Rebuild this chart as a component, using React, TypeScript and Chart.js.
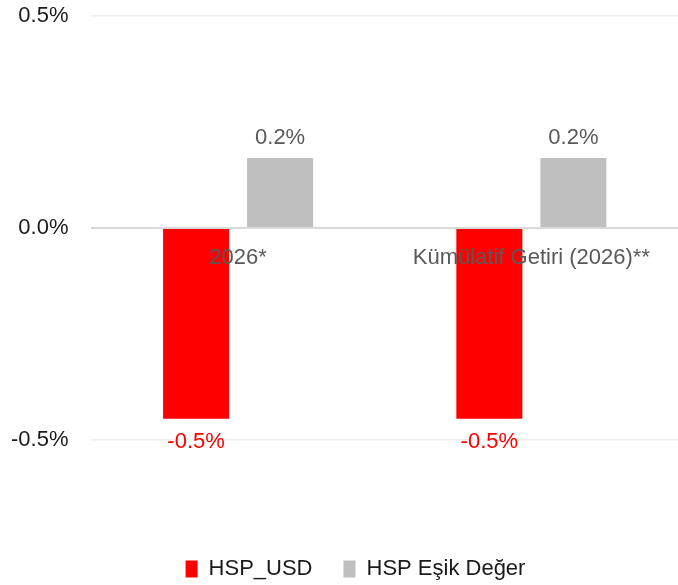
import React, { useEffect, useRef } from "react";
import { Chart, registerables } from "chart.js";

Chart.register(...registerables);

const categories = ["2026*", "Kümülatif Getiri (2026)**"];
const seriesNames = ["HSP_USD", "HSP Eşik Değer"];
const hspUsd = [-0.45, -0.45];
const hspEsik = [0.165, 0.165];
const yMin = -0.5;
const yMax = 0.5;
const yStep = 0.5;
const barColors = ["#FF0000", "#BFBFBF"];
const labelColors = ["#FF0000", "#595959"];

const FONT = '"Liberation Sans", Arial, sans-serif';

function fmtPct(v: number): string {
  const r = Math.round(Math.abs(v) * 10) / 10;
  return (v < 0 && r !== 0 ? "-" : "") + r.toFixed(1) + "%";
}

const labelsPlugin = {
  id: "valueAndCategoryLabels",
  afterDatasetsDraw(chart: any) {
    const ctx = chart.ctx;
    ctx.save();
    ctx.textAlign = "center";
    ctx.textBaseline = "middle";
    ctx.font = `22px ${FONT}`;
    chart.data.datasets.forEach((ds: any, di: number) => {
      const meta = chart.getDatasetMeta(di);
      meta.data.forEach((bar: any, i: number) => {
        const v = ds.data[i] as number;
        const y = v >= 0 ? bar.y - 20 : bar.y + 23;
        ctx.fillStyle = labelColors[di];
        ctx.fillText(fmtPct(v), bar.x, y);
      });
    });
    const xs = chart.scales.x;
    const ys = chart.scales.y;
    const y0 = ys.getPixelForValue(0);
    ctx.font = `22px ${FONT}`;
    ctx.fillStyle = "#595959";
    categories.forEach((c, i) => {
      ctx.fillText(c, xs.getPixelForValue(i), y0 + 30);
    });
    ctx.restore();
  },
};

const legendShiftPlugin = {
  id: "legendShift",
  afterLayout(chart: any) {
    if (chart.legend) {
      chart.legend.left += 11;
      chart.legend.right += 11;
    }
  },
};

export default function App() {
  const ref = useRef<HTMLCanvasElement | null>(null);
  useEffect(() => {
    if (!ref.current) return;
    Chart.defaults.font.family = FONT;
    const chart = new Chart(ref.current, {
      type: "bar",
      data: {
        labels: categories,
        datasets: [
          {
            label: seriesNames[0],
            data: hspUsd,
            backgroundColor: barColors[0],
            categoryPercentage: 0.573,
            barPercentage: 0.786,
          },
          {
            label: seriesNames[1],
            data: hspEsik,
            backgroundColor: barColors[1],
            categoryPercentage: 0.573,
            barPercentage: 0.786,
          },
        ],
      },
      options: {
        animation: false,
        responsive: true,
        maintainAspectRatio: false,
        layout: { padding: { top: 16, left: 11, right: 0, bottom: 0 } },
        plugins: {
          tooltip: { enabled: false },
          legend: {
            position: "bottom",
            labels: {
              font: { size: 22, family: FONT },
              color: "#1a1a1a",
              boxWidth: 12,
              boxHeight: 17,
              padding: 31,
            },
          },
        },
        scales: {
          x: {
            type: "category",
            offset: true,
            ticks: { display: false },
            grid: { display: false },
            border: { display: false },
            afterFit(scale: any) {
              scale.height = 87;
            },
          },
          y: {
            min: yMin,
            max: yMax,
            ticks: {
              stepSize: yStep,
              font: { size: 22, family: FONT },
              color: "#1a1a1a",
              padding: 0,
              callback: (v: any) => fmtPct(Number(v)),
            },
            grid: {
              drawTicks: true,
              tickLength: 23,
              tickColor: "rgba(0,0,0,0)",
              color: (c: any) => (c.tick && c.tick.value === 0 ? "#d9d9d9" : "#f0f0f0"),
              lineWidth: (c: any) => (c.tick && c.tick.value === 0 ? 2 : 1.5),
            },
            border: { display: false },
          },
        },
      },
      plugins: [labelsPlugin, legendShiftPlugin],
    });
    return () => chart.destroy();
  }, []);
  return (
    <div
      style={{
        position: "fixed",
        left: 0,
        top: 0,
        width: 678,
        height: 585,
        overflow: "hidden",
        background: "#ffffff",
      }}
    >
      <div style={{ position: "relative", width: 678, height: 590 }}>
        <canvas ref={ref} />
      </div>
    </div>
  );
}
